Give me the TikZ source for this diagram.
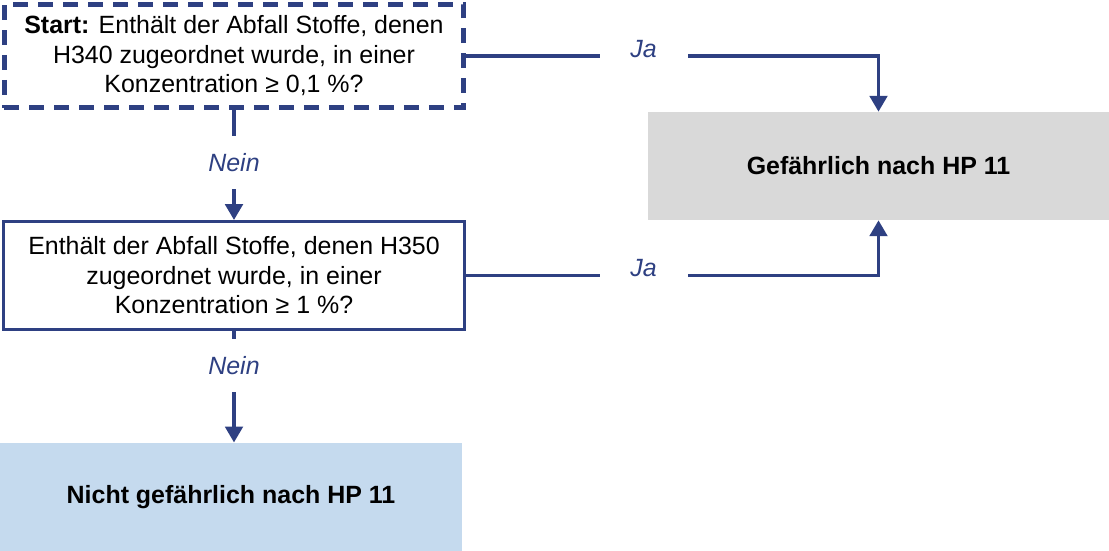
\documentclass[tikz,border=0pt]{standalone}
\usepackage{fontspec}
\setmainfont{Liberation Sans}
\usetikzlibrary{positioning, arrows.meta}
\definecolor{flowblue}{RGB}{46,64,130}
\definecolor{nogray}{RGB}{217,217,217}
\definecolor{yesblue}{RGB}{197,218,238}

\begin{document}
\begin{tikzpicture}[
        x=0.02cm, y=-0.02cm,
        font=\fontsize{14.2}{16.8}\selectfont,
        startq/.style={rectangle, draw=flowblue, line width=0.1cm, dash pattern=on 0.3cm off 0.2cm, minimum width=9.2cm, minimum height=2.08cm, align=center, inner sep=2pt},
        frage/.style={rectangle, draw=flowblue, line width=0.06cm, minimum width=9.24cm, minimum height=2.16cm, align=center, inner sep=2pt},
        result/.style={rectangle, minimum width=9.24cm, minimum height=2.18cm, align=center, font=\fontsize{14.2}{16.8}\selectfont\bfseries},
        conn/.style={draw=flowblue, line width=0.065cm},
        arrow/.style={conn, -{Triangle[length=9pt, width=10pt]}},
        jalbl/.style={fill=white, text=flowblue, font=\fontsize{14.2}{16.8}\selectfont\itshape, minimum width=1.76cm, minimum height=0.4cm, yshift=0.14cm, inner sep=0pt},
        neinlbl/.style={fill=white, text=flowblue, font=\fontsize{14.2}{16.8}\selectfont\itshape, minimum width=1.4cm, minimum height=1.06cm, yshift=0.06cm, inner sep=0pt},
    ]
    \useasboundingbox (0,0) rectangle (1109,551);

    % ===== questions =====
    \node[startq] (Q1) at (234,56) {\textbf{Start:} Enthält der Abfall Stoffe, denen\\H340 zugeordnet wurde, in einer\\Konzentration ≥ 0,1 \%?};
    \node[frage, below=2.19cm of Q1] (Q2) {Enthält der Abfall Stoffe, denen H350\\zugeordnet wurde, in einer\\Konzentration ≥ 1 \%?};

    % ===== results =====
    \node[result, fill=yesblue, below=2.23cm of Q2, xshift=-0.06cm] (NG) {Nicht gefährlich nach HP 11};
    \node[result, fill=nogray, minimum width=9.22cm, minimum height=2.16cm] (G) at (878.5,166) {Gefährlich nach HP 11};

    % ===== connectors =====
    \draw[arrow] (Q1.east) -- node[jalbl, pos=0.43] {Ja} (Q1.east -| G.north) -- (G.north);
    \draw[arrow] (Q2.east) -- node[jalbl, pos=0.43] {Ja} (Q2.east -| G.south) -- (G.south);
    \draw[arrow] (Q1.south) -- node[neinlbl, pos=0.5] {Nein} (Q2.north);
    \draw[arrow] (Q2.south) -- node[neinlbl, pos=0.34] {Nein} (Q2.south |- NG.north);

\end{tikzpicture}
\end{document}
